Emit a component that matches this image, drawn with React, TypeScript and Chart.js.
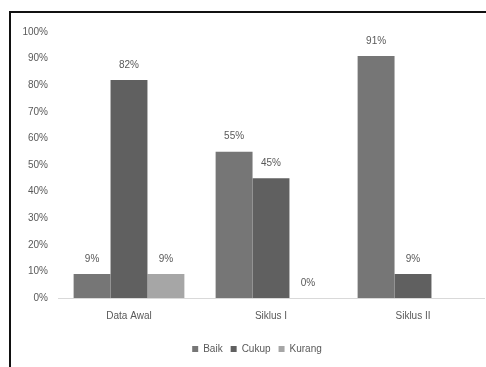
import React, { useEffect, useRef } from "react";
import { Chart, registerables } from "chart.js";

Chart.register(...registerables);

const categories = ["Data Awal", "Siklus I", "Siklus II"];
const seriesNames = ["Baik", "Cukup", "Kurang"];
const baik = [9, 55, 91];
const cukup = [82, 45, 9];
const kurang: (number | null)[] = [9, 0, null];
const colors = ["#767676", "#606060", "#a6a6a6"];

const FONT = "'Liberation Sans', sans-serif";

const valueLabels = {
  id: "valueLabels",
  afterDatasetsDraw(chart: any) {
    const ctx = chart.ctx;
    ctx.save();
    ctx.font = "10px " + FONT;
    ctx.fillStyle = "#595959";
    ctx.textAlign = "center";
    ctx.textBaseline = "middle";
    chart.data.datasets.forEach((ds: any, i: number) => {
      const meta = chart.getDatasetMeta(i);
      meta.data.forEach((bar: any, j: number) => {
        const v = ds.data[j];
        if (v === null || v === undefined) return;
        ctx.fillText(v + "%", bar.x, bar.y - 15);
      });
    });
    ctx.restore();
  },
};

const legendShift = {
  id: "legendShift",
  afterLayout(chart: any) {
    if (chart.legend) {
      chart.legend.left += 10;
      chart.legend.right += 10;
    }
  },
};

export default function App() {
  const ref = useRef<HTMLCanvasElement>(null);
  useEffect(() => {
    if (!ref.current) return;
    const chart = new Chart(ref.current, {
      type: "bar",
      data: {
        labels: categories,
        datasets: [
          { label: seriesNames[0], data: baik, backgroundColor: colors[0] },
          { label: seriesNames[1], data: cukup, backgroundColor: colors[1] },
          { label: seriesNames[2], data: kurang, backgroundColor: colors[2] },
        ],
      },
      options: {
        animation: false,
        responsive: false,
        maintainAspectRatio: false,
        datasets: {
          bar: { categoryPercentage: 0.78, barPercentage: 1 },
        },
        layout: { padding: { left: 10, right: 2, top: 32, bottom: 3 } },
        plugins: {
          tooltip: { enabled: false },
          legend: {
            position: "bottom",
            labels: {
              boxWidth: 6,
              boxHeight: 6,
              padding: 8,
              color: "#595959",
              font: { size: 10, family: FONT },
            },
          },
        },
        scales: {
          x: {
            grid: { display: false, drawTicks: false },
            border: { display: true, color: "#d9d9d9", width: 1 },
            ticks: {
              padding: 12,
              color: "#595959",
              font: { size: 10, family: FONT },
            },
            afterFit(scale: any) {
              scale.height = 38;
            },
          },
          y: {
            min: 0,
            max: 100,
            grid: { display: false, drawTicks: false },
            border: { display: false },
            ticks: {
              stepSize: 10,
              padding: 10,
              color: "#595959",
              font: { size: 10, family: FONT },
              callback: (v: any) => v + "%",
            },
            afterFit(scale: any) {
              scale.width = 48;
            },
          },
        },
      },
      plugins: [valueLabels, legendShift],
    });
    return () => chart.destroy();
  }, []);
  return (
    <div style={{ position: "fixed", left: 0, top: 0, width: 486, height: 367, background: "#fff" }}>
      <canvas ref={ref} width={486} height={367} style={{ position: "absolute", left: 0, top: 0 }} />
      <div
        style={{
          position: "absolute",
          left: 9,
          top: 11,
          width: 486,
          height: 367,
          borderTop: "2px solid #111",
          borderLeft: "2px solid #111",
          pointerEvents: "none",
        }}
      />
    </div>
  );
}
